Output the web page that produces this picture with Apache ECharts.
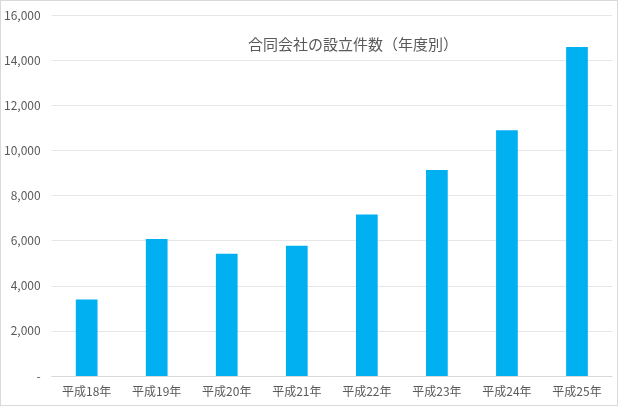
<!DOCTYPE html>
<html>
<head>
<meta charset="utf-8">
<script src="https://cdn.jsdelivr.net/npm/echarts@6/dist/echarts.min.js"></script>
<style>
  html, body { margin: 0; padding: 0; background: #fff; }
  #chart { width: 616px; height: 404px; border: 1px solid #d9d9d9; }
</style>
</head>
<body>
<div id="chart"></div>
<script>
// 年度別の設立件数
const categories = ['平成18年', '平成19年', '平成20年', '平成21年', '平成22年', '平成23年', '平成24年', '平成25年'];
const counts = [3392, 6076, 5413, 5771, 7153, 9130, 10889, 14581];
const titleText = '合同会社の設立件数（年度別）';

const font = '"Noto Sans CJK JP", "Noto Sans", sans-serif';
const myChart = echarts.init(document.getElementById('chart'));

const option = {
  animation: false,
  textStyle: { fontFamily: font },
  title: {
    text: titleText,
    left: 242,
    top: 31,
    textStyle: { fontSize: 15, fontWeight: 'normal', color: '#595959', fontFamily: font }
  },
  grid: { left: 49, right: 5, top: 14, bottom: 29 },
  xAxis: {
    type: 'category',
    data: categories,
    axisTick: { show: false },
    axisLine: { lineStyle: { color: '#d9d9d9' } },
    axisLabel: { color: '#595959', fontSize: 12, margin: 9 }
  },
  yAxis: {
    type: 'value',
    min: 0,
    max: 16000,
    interval: 2000,
    axisLine: { show: false },
    axisTick: { show: false },
    splitLine: { lineStyle: { color: '#e6e6e6' } },
    axisLabel: {
      color: '#595959',
      fontSize: 12,
      margin: 11,
      formatter: v => v === 0 ? '-' : v.toLocaleString('en-US')
    }
  },
  series: [
    {
      type: 'bar',
      data: counts,
      barWidth: '31%',
      itemStyle: { color: '#00b0f0' }
    }
  ]
};

option && myChart.setOption(option);
</script>
</body>
</html>
